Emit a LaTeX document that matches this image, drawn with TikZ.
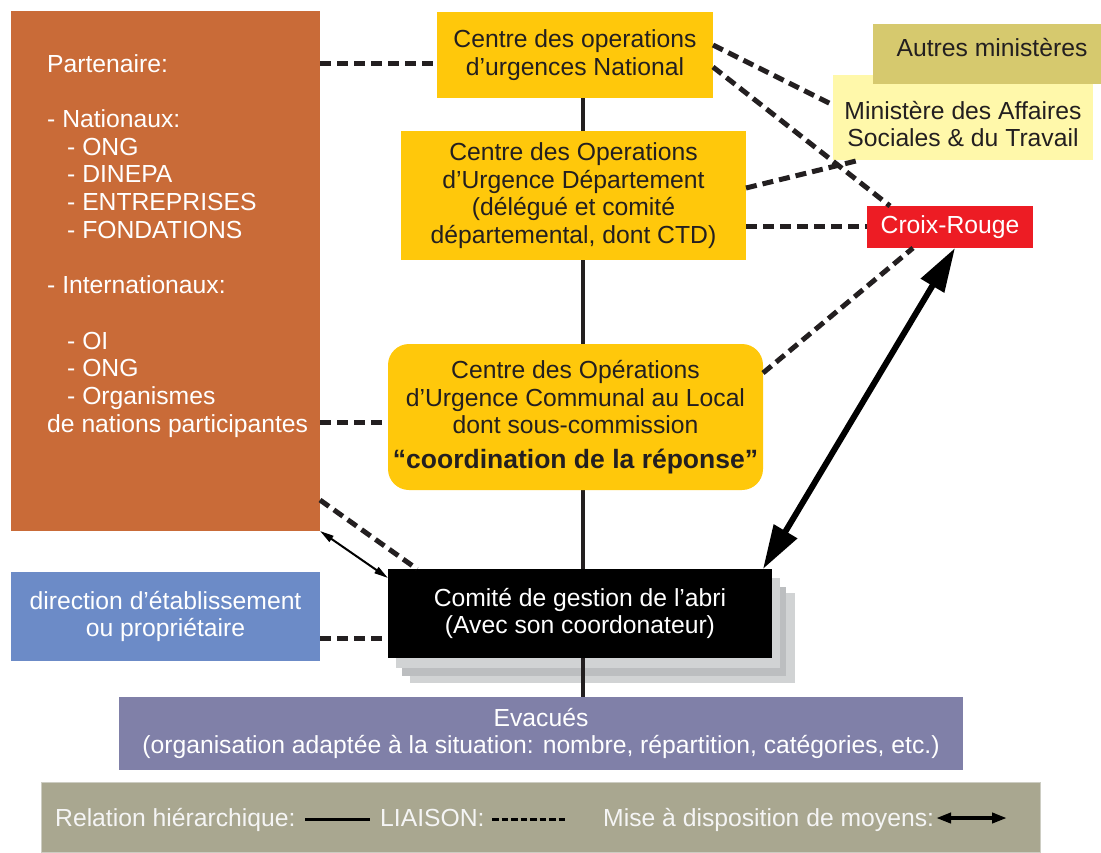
\documentclass[tikz,border=0pt]{standalone}
\usepackage{fontspec}
\setmainfont{Liberation Sans}
\usetikzlibrary{arrows.meta,backgrounds,calc}
\definecolor{orng}{HTML}{C96B38}
\definecolor{gold}{HTML}{FFC80B}
\definecolor{khaki}{HTML}{D6C96E}
\definecolor{lyellow}{HTML}{FFF8AA}
\definecolor{crred}{HTML}{ED1C24}
\definecolor{dirblue}{HTML}{6C8BC7}
\definecolor{evpurple}{HTML}{8080A8}
\definecolor{legbg}{HTML}{A9A790}
\definecolor{dark}{HTML}{231F20}
\definecolor{shlight}{HTML}{D1D3D4}
\definecolor{shdark}{HTML}{BCBEC0}
\begin{document}
\begin{tikzpicture}[x=1pt,y=-1pt,
  box/.style={rectangle, inner sep=0pt, outer sep=0pt},
  txt/.style={font=\fontsize{24.7}{27.7}\selectfont, inner sep=0pt, align=center},
  liaison/.style={draw=dark, line width=5pt, dash pattern=on 11pt off 6pt},
  hier/.style={draw=dark, line width=4pt},
  moyens/.style={draw=black, line width=6pt, {Triangle[length=44pt,width=26pt]}-{Triangle[length=44pt,width=26pt]}},
  moyensthin/.style={draw=black, line width=2pt, {Triangle[length=14pt,width=7pt]}-{Triangle[length=14pt,width=7pt]}},
  legtxt/.style={txt, text=white!96!black, anchor=base west},
]
\useasboundingbox (0,0) rectangle (1101,852);

% left boxes
\node[box, fill=orng, minimum width=309, minimum height=520] (part) at (165.5,271) {};
\node[txt, text=white, align=left, anchor=north west] (parttext) at (47,54)
 {Partenaire:\\ \mbox{}\\ - Nationaux:\\
  \hspace*{20pt}- ONG\\ \hspace*{20pt}- DINEPA\\ \hspace*{20pt}- ENTREPRISES\\ \hspace*{20pt}- FONDATIONS\\ \mbox{}\\
  - Internationaux:\\ \mbox{}\\
  \hspace*{20pt}- OI\\ \hspace*{20pt}- ONG\\ \hspace*{20pt}- Organismes\\ de nations participantes};
\node[box, fill=dirblue, minimum width=309, minimum height=89, txt, text=white] (dir) at (165.5,616.5)
 {direction d’établissement\\ou propriétaire};

% centre boxes
\node[box, fill=gold, minimum width=276, minimum height=86, txt, text=dark] (nat) at (575,55)
 {Centre des operations\\d’urgences National};
\node[box, fill=gold, minimum width=345, minimum height=129, txt, text=dark] (dep) at (573.5,195.5)
 {Centre des Operations\\d’Urgence Département\\(délégué et comité\\départemental, dont CTD)};
\node[box, fill=gold, rounded corners=21pt, minimum width=375, minimum height=146, txt, text=dark] (comm) at (575.5,417)
 {Centre des Opérations\\d’Urgence Communal au Local\\dont sous-commission\\[7pt]{\bfseries\fontsize{26.5}{30}\selectfont “coordination de la réponse”}};

% right boxes
\node[box, fill=lyellow, minimum width=260, minimum height=85] (minis) at (963,117.5) {};
\node[txt, text=dark] (mintext) at ($(minis.center)+(0,6.5)$) {Ministère des Affaires\\Sociales \& du Travail};
\node[box, fill=khaki, minimum width=228, minimum height=60] (autres) at (987,54) {};
\node[txt, text=dark] (autrestext) at ($(autres.center)+(5,-6)$) {Autres ministères};
\node[box, fill=crred, minimum width=166, minimum height=42, txt, text=white] (croix) at (950,227) {Croix-Rouge};

% comite
\node[box, fill=black, minimum width=384, minimum height=89, txt, text=white] (comite) at (580,613.5)
 {Comité de gestion de l’abri\\(Avec son coordonateur)};

% evacues
\node[box, fill=evpurple, minimum width=844, minimum height=73, txt, text=white] (evac) at (541,733.5)
 {Evacués\\(organisation adaptée à la situation: nombre, répartition, catégories, etc.)};

% legend
\node[box, fill=legbg, draw={rgb,255:red,205;green,205;blue,195}, line width=1pt, minimum width=999, minimum height=70] (legend) at (540.5,817) {};
\node[legtxt] (lg1) at (55,826) {Relation hiérarchique:};
\node[legtxt] (lg2) at (380,826) {LIAISON:};
\node[legtxt] (lg3) at (603,826) {Mise à disposition de moyens:};

\coordinate (h1) at (305,819);
\coordinate (h2) at (370,819);
\coordinate (l1) at (492,819);
\coordinate (l2) at (568,819);
\coordinate (m1) at (936,818);
\coordinate (m2) at (1007,818);
\draw[draw=black, line width=3pt] (h1) -- (h2);
\draw[draw=black, line width=3pt, dash pattern=on 6.5pt off 3pt] (l1) -- (l2);
\draw[draw=black, line width=4pt, {Triangle[length=15pt,width=10pt]}-{Triangle[length=15pt,width=10pt]}] (m1) -- (m2);

% background: shadows and hierarchy line
\begin{pgfonlayer}{background}
  \fill[shlight] (410,593) rectangle (795,683);
  \fill[shdark] (402,587) rectangle (786,676);
  \fill[shlight] (396,578) rectangle (780,668);
  \draw[hier] (nat.south -| 583,0) -- (evac.north -| 583,0);
\end{pgfonlayer}

% liaison lines
\draw[liaison] (part.east |- 0,63) -- (nat.west |- 0,63);
\draw[liaison] (part.east |- 0,422) -- (comm.west |- 0,422);
\draw[liaison] (part.east |- 0,500) -- ([xshift=29pt]comite.north west);
\draw[liaison] (dir.east |- 0,638) -- (comite.west |- 0,638);
\draw[liaison] (nat.east |- 0,45) -- (minis.west |- 0,105);
\draw[liaison] (nat.east |- 0,67) -- ([xshift=23pt]croix.north west);
\draw[liaison] (dep.east |- 0,188) -- ([xshift=27pt]minis.south west);
\draw[liaison] (dep.east |- 0,226) -- (croix.west |- 0,226);
\draw[liaison] (comm.east |- 0,373) -- ([xshift=46pt]croix.south west);

% moyens
\draw[moyens] ([xshift=-9pt]comite.north east) -- ([xshift=5pt]croix.south);
\draw[moyensthin] (part.south east) -- ([yshift=-9pt]comite.north west);
\end{tikzpicture}
\end{document}
